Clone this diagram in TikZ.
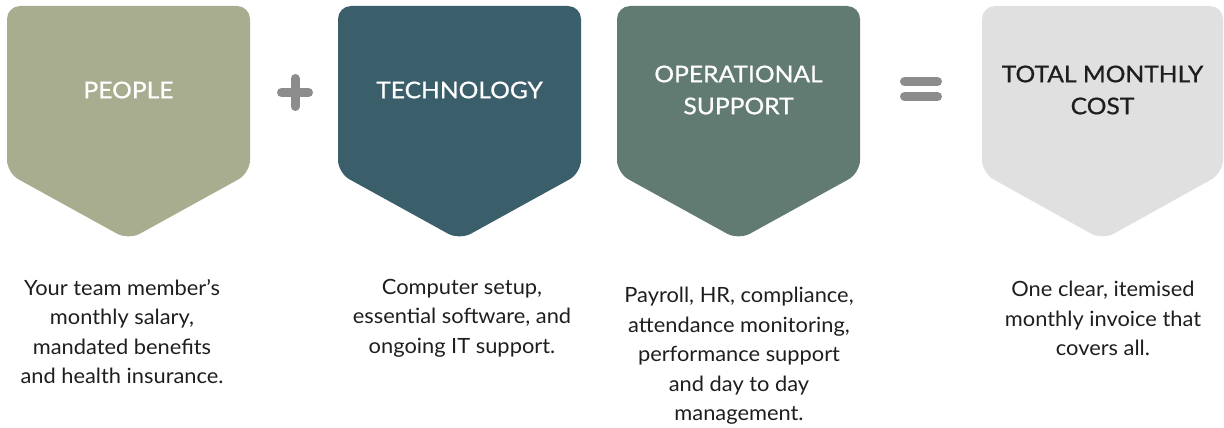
\documentclass[tikz,border=0pt]{standalone}
\usepackage{fontspec}
\setmainfont{Lato}[FakeStretch=1.04]
\newfontfamily\titlefont{Lato}[FakeStretch=1.07, FakeBold=0.8]
\usetikzlibrary{positioning}

\definecolor{peoplecol}{HTML}{A9AD90}
\definecolor{techcol}{HTML}{3B5E6B}
\definecolor{opscol}{HTML}{627B72}
\definecolor{totalcol}{HTML}{E0E0E0}
\definecolor{signcol}{HTML}{8C8C8C}
\definecolor{textcol}{HTML}{1E1E1E}

\begin{document}
\begin{tikzpicture}[x=1pt, y=-1pt,
  badge/.style={rounded corners=13pt},
  title/.style={align=center, font=\titlefont\fontsize{23}{32}\selectfont, text=white},
  desc/.style={align=center, font=\fontsize{21}{29.5}\selectfont, text=textcol},
  sign/.style={draw=signcol, line width=9pt, line cap=round}]
	\useasboundingbox (0,0) rectangle (1224,428);

	% shapes
	\fill[badge, peoplecol] (7,6) -- (250,6) -- (250,173) -- (128.5,240) -- (7,173) -- cycle;
	\fill[badge, techcol] (338,6) -- (581,6) -- (581,173) -- (459.5,240) -- (338,173) -- cycle;
	\fill[badge, opscol] (617,6) -- (860,6) -- (860,173) -- (738.5,240) -- (617,173) -- cycle;
	\fill[badge, totalcol] (982,6) -- (1223,6) -- (1223,173) -- (1102.5,240) -- (982,173) -- cycle;

	% titles
	\node[title] (people) at (128.5,90) {PEOPLE};
	\node[title] (tech) at (459.5,90) {TECHNOLOGY};
	\node[title] (ops) at (738.5,90) {OPERATIONAL\\SUPPORT};
	\node[title, text=textcol] (total) at (1102.5,90) {TOTAL MONTHLY\\COST};

	% plus and equals
	\coordinate (plus) at (295,92.5);
	\draw[sign] ([xshift=-13.5pt]plus) -- ([xshift=13.5pt]plus);
	\draw[sign] ([yshift=-14pt]plus) -- ([yshift=14pt]plus);
	\coordinate (equal) at (921,89);
	\draw[sign] ([xshift=-16.5pt,yshift=-7.5pt]equal) -- ([xshift=16.5pt,yshift=-7.5pt]equal);
	\draw[sign] ([xshift=-16.5pt,yshift=7.5pt]equal) -- ([xshift=16.5pt,yshift=7.5pt]equal);

	% descriptions
	\node[desc, anchor=north] (people_text) at (122,275.5) {Your team member’s\\monthly salary,\\mandated benefits\\and health insurance.};
	\node[desc, anchor=north] (tech_text) at (462,275.5) {Computer setup,\\essential software, and\\ongoing IT support.};
	\node[desc, anchor=north] (ops_text) at (739,283.5) {Payroll, HR, compliance,\\attendance monitoring,\\performance support\\and day to day\\management.};
	\node[desc, anchor=north] (total_text) at (1103,277.5) {One clear, itemised\\monthly invoice that\\covers all.};
\end{tikzpicture}
\end{document}
